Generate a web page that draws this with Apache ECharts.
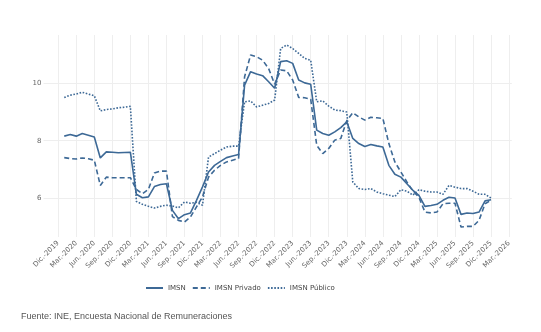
<!DOCTYPE html>
<html>
<head>
<meta charset="utf-8">
<script src="https://cdn.jsdelivr.net/npm/echarts@6/dist/echarts.min.js"></script>
<style>
html,body{margin:0;padding:0;background:#fff;}
#chart{width:541px;height:332px;}
</style>
</head>
<body>
<div id="chart"></div>
<script>
// Months (Jan 2020 .. Dec 2025)
const months = [
'2020-01','2020-02','2020-03','2020-04','2020-05','2020-06','2020-07','2020-08','2020-09','2020-10','2020-11','2020-12',
'2021-01','2021-02','2021-03','2021-04','2021-05','2021-06','2021-07','2021-08','2021-09','2021-10','2021-11','2021-12',
'2022-01','2022-02','2022-03','2022-04','2022-05','2022-06','2022-07','2022-08','2022-09','2022-10','2022-11','2022-12',
'2023-01','2023-02','2023-03','2023-04','2023-05','2023-06','2023-07','2023-08','2023-09','2023-10','2023-11','2023-12',
'2024-01','2024-02','2024-03','2024-04','2024-05','2024-06','2024-07','2024-08','2024-09','2024-10','2024-11','2024-12',
'2025-01','2025-02','2025-03','2025-04','2025-05','2025-06','2025-07','2025-08','2025-09','2025-10','2025-11','2025-12'
];

const imsn = [
8.16,8.22,8.16,8.25,8.19,8.13,7.40,7.61,7.60,7.58,7.59,7.60,
6.13,6.01,6.04,6.40,6.47,6.50,5.57,5.28,5.42,5.48,5.92,6.39,
6.91,7.14,7.28,7.41,7.47,7.52,9.94,10.41,10.33,10.27,10.06,9.83,
10.76,10.79,10.70,10.12,10.02,9.97,8.37,8.25,8.19,8.31,8.46,8.66,
8.08,7.90,7.80,7.87,7.82,7.78,7.14,6.83,6.73,6.50,6.27,6.09,
5.71,5.74,5.78,5.92,6.03,6.00,5.43,5.48,5.46,5.51,5.90,5.94
];

const imsnPrivado = [
7.41,7.38,7.36,7.40,7.37,7.32,6.44,6.73,6.71,6.71,6.71,6.71,
6.30,6.15,6.30,6.87,6.94,6.94,5.35,5.22,5.16,5.34,5.69,6.04,
6.73,6.97,7.14,7.26,7.32,7.38,10.23,10.99,10.93,10.81,10.52,9.97,
10.47,10.44,10.12,9.51,9.50,9.45,7.84,7.55,7.73,8.02,8.08,8.70,
8.98,8.83,8.72,8.82,8.80,8.78,7.90,7.26,6.91,6.56,6.24,6.03,
5.51,5.48,5.51,5.80,5.82,5.82,4.99,5.01,5.01,5.22,5.80,5.92
];

const imsnPublico = [
9.51,9.59,9.63,9.69,9.63,9.57,9.04,9.09,9.11,9.15,9.17,9.20,
5.88,5.78,5.71,5.65,5.71,5.75,5.72,5.66,5.86,5.82,5.85,5.75,
7.43,7.55,7.67,7.78,7.81,7.81,9.36,9.39,9.18,9.24,9.30,9.42,
11.22,11.34,11.22,11.05,10.87,10.81,9.36,9.39,9.21,9.07,9.05,9.00,
6.56,6.33,6.30,6.33,6.21,6.15,6.10,6.05,6.29,6.24,6.10,6.29,
6.24,6.21,6.21,6.13,6.44,6.38,6.33,6.33,6.24,6.13,6.13,6.00
];

const tickLabels = [
'Dic.-2019','Mar.-2020','Jun.-2020','Sep.-2020','Dic.-2020','Mar.-2021','Jun.-2021','Sep.-2021','Dic.-2021',
'Mar.-2022','Jun.-2022','Sep.-2022','Dic.-2022','Mar.-2023','Jun.-2023','Sep.-2023','Dic.-2023',
'Mar.-2024','Jun.-2024','Sep.-2024','Dic.-2024','Mar.-2025','Jun.-2025','Sep.-2025','Dic.-2025','Mar.-2026'
];
const yTicks = [6, 8, 10];

// month offset relative to Dic.-2019
function monthIndex(s) {
  const [y, m] = s.split('-').map(Number);
  return (y - 2019) * 12 + (m - 12);
}
const tickValues = tickLabels.map((_, i) => i * 3);
function pairs(vals) { return months.map((m, i) => [monthIndex(m), vals[i]]); }

const color = '#3d6996';
const font = 'DejaVu Sans';
const chart = echarts.init(document.getElementById('chart'), null, {renderer: 'canvas'});
chart.setOption({
  animation: false,
  backgroundColor: '#ffffff',
  grid: {left: 43.5, right: 29.2, top: 35, bottom: 95, containLabel: false},
  xAxis: {
    type: 'value', min: -2.45, max: 75.45,
    axisLine: {show: false},
    axisTick: {show: false, customValues: tickValues},
    axisLabel: {
      customValues: tickValues, rotate: 45, fontSize: 7, color: '#666', fontFamily: font, margin: 5,
      formatter: v => tickLabels[Math.round(v / 3)] || ''
    },
    splitLine: {show: true, lineStyle: {color: '#eeeeee', width: 1}}
  },
  yAxis: {
    type: 'value', min: 4.64, max: 11.69,
    axisLine: {show: false},
    axisTick: {show: false, customValues: yTicks},
    axisLabel: {customValues: yTicks, fontSize: 7, color: '#666', fontFamily: font, margin: 2},
    splitLine: {show: true, lineStyle: {color: '#eeeeee', width: 1}}
  },
  legend: {
    left: 140, top: 279, itemWidth: 17, itemHeight: 10, itemGap: 6,
    itemStyle: {opacity: 0},
    textStyle: {fontSize: 7, color: '#444', fontFamily: font},
    data: ['IMSN', 'IMSN Privado', 'IMSN Público']
  },
  graphic: [{
    type: 'text', left: 21, top: 312,
    style: {text: 'Fuente: INE, Encuesta Nacional de Remuneraciones', fontSize: 9, fill: '#555', fontFamily: 'Liberation Sans'}
  }],
  series: [
    {name: 'IMSN', type: 'line', data: pairs(imsn), symbol: 'none', color: color,
     lineStyle: {width: 1.6, color: color}},
    {name: 'IMSN Privado', type: 'line', data: pairs(imsnPrivado), symbol: 'none', color: color,
     lineStyle: {width: 1.6, color: color, type: [5, 3]}},
    {name: 'IMSN Público', type: 'line', data: pairs(imsnPublico), symbol: 'none', color: color,
     lineStyle: {width: 1.6, color: color, type: [1.6, 1.6]}}
  ]
});
</script>
</body>
</html>
